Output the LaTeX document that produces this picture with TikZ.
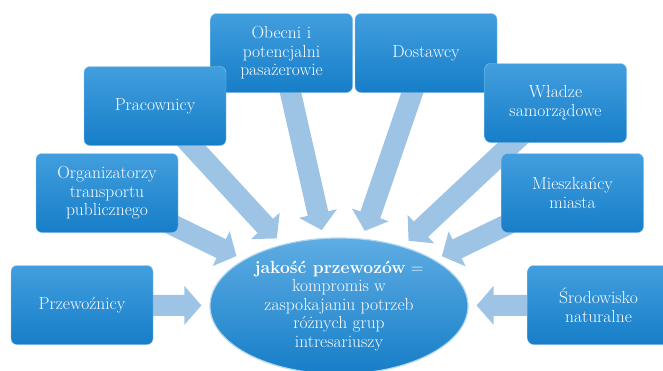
\documentclass[tikz,border=0pt]{standalone}
\usetikzlibrary{shapes.geometric,arrows.meta,backgrounds}
\definecolor{boxtop}{RGB}{66,158,222}
\definecolor{boxbot}{RGB}{22,126,200}
\definecolor{arrowblue}{RGB}{158,196,229}
\tikzset{
  box/.style={rectangle, rounded corners=6pt, minimum width=142pt, minimum height=79pt,
    text width=134pt, align=center, top color=boxtop, bottom color=boxbot,
    draw=boxtop!60!white, text=white, font=\fontsize{17.5}{18.5}\selectfont},
  goal/.style={ellipse, minimum width=258pt, minimum height=136pt, inner sep=0pt,
    align=center, top color=boxtop!85!white, bottom color=boxbot,
    draw=boxtop!40!white, line width=1.2pt, text=white, font=\fontsize{17.5}{18.5}\selectfont},
  flow/.style={arrowblue, line width=21pt, -{Triangle[width=38pt,length=17pt]},
    shorten >=8pt, shorten <=-12pt}
}
\begin{document}
\begin{tikzpicture}[x=1pt,y=-1pt]
\clip (0,0) rectangle (663,370);
\node[goal] (jakosc) at (339,306) {\textbf{jakość przewozów} =\\ kompromis w\\ zaspokajaniu potrzeb\\ różnych grup\\ intresariuszy};
\node[box] (obecni) at (281.5,53) {Obecni i\\ potencjalni\\ pasażerowie};
\node[box] (dostawcy) at (426,53) {Dostawcy};
\node[box] (pracownicy) at (155,106) {Pracownicy};
\node[box] (wladze) at (555.5,103) {Władze\\ samorządowe};
\node[box] (organizatorzy) at (107,193) {Organizatorzy\\ transportu\\ publicznego};
\node[box] (mieszkancy) at (572.5,193) {Mieszkańcy\\ miasta};
\node[box] (przewoznicy) at (82,305) {Przewoźnicy};
\node[box] (srodowisko) at (598.5,305) {Środowisko\\ naturalne};
\begin{scope}[on background layer]
\draw[flow] (obecni) -- (jakosc);
\draw[flow] (dostawcy) -- (jakosc);
\draw[flow] (pracownicy) -- (jakosc);
\draw[flow] (wladze) -- (jakosc);
\draw[flow] (organizatorzy) -- (jakosc);
\draw[flow] (mieszkancy) -- (jakosc);
\draw[flow] (przewoznicy) -- (jakosc);
\draw[flow] (srodowisko) -- (jakosc);
\end{scope}
\end{tikzpicture}
\end{document}
